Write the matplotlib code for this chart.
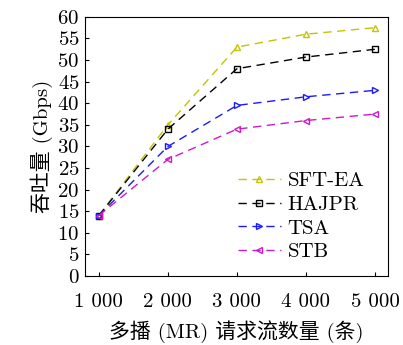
import numpy as np
import matplotlib
matplotlib.use("Agg")
import matplotlib.pyplot as plt

plt.rcParams['font.family'] = ['cmr10', 'Noto Sans CJK SC']
plt.rcParams['axes.formatter.use_mathtext'] = True

# data
flows = [1000, 2000, 3000, 4000, 5000]
flow_labels = ['1 000', '2 000', '3 000', '4 000', '5 000']
sft_ea = [14, 35, 53, 56, 57.5]
hajpr = [14, 34, 48, 50.7, 52.5]
tsa = [14, 30, 39.5, 41.5, 43]
stb = [14, 27, 34, 36, 37.5]

fig = plt.figure(figsize=(4.03, 3.45), dpi=100)
ax = fig.add_axes([0.211, 0.2, 0.752, 0.751])

dash = (0, (6, 4))
ax.plot(flows, sft_ea, color='#c4c400', linestyle=dash, marker='^', ms=4.5, mfc='none', lw=1, label='SFT-EA')
ax.plot(flows, hajpr, color='black', linestyle=dash, marker='s', ms=4, mfc='none', lw=1, label='HAJPR')
ax.plot(flows, tsa, color='#1a1aff', linestyle=dash, marker='>', ms=4.5, mfc='none', lw=1, label='TSA')
ax.plot(flows, stb, color='#cc1acc', linestyle=dash, marker='<', ms=4.5, mfc='none', lw=1, label='STB')

ax.set_xlim(800, 5190)
ax.set_ylim(0, 60)
ax.set_xticks(flows)
ax.set_xticklabels(flow_labels)
ax.set_yticks(np.arange(0, 61, 5))
ax.tick_params(direction='in', length=3, labelsize=15, pad=4)
ax.tick_params(axis='x', pad=12)

ax.set_xlabel('多播 (MR) 请求流数量 (条)', fontsize=15, labelpad=7)
ax.set_ylabel('吞吐量 (Gbps)', fontsize=15, labelpad=3)

ax.legend(loc='lower right', bbox_to_anchor=(0.97, 0.0), frameon=False, fontsize=15,
          handlelength=2.1, handletextpad=0.3, labelspacing=0.25, borderaxespad=0.3)

fig.savefig('out.png', dpi=100)
